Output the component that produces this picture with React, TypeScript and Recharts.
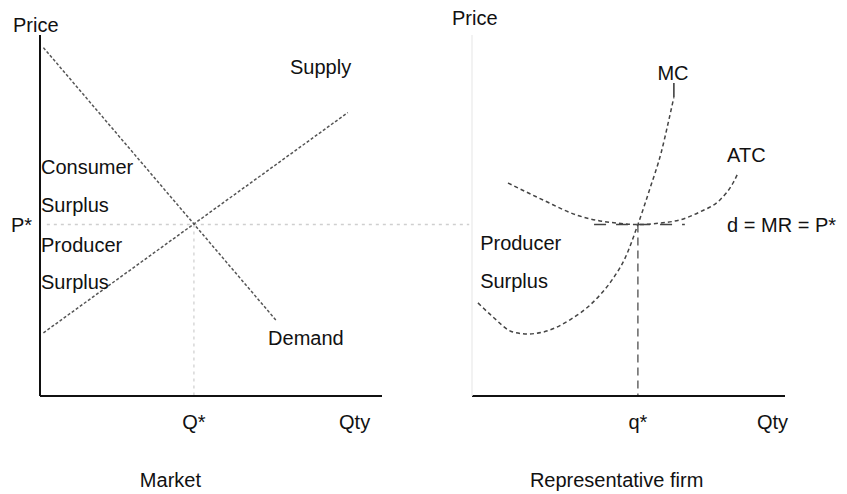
import { LineChart, Line, XAxis, YAxis, ReferenceLine, ReferenceDot } from "recharts";

// equilibrium levels, shared price scale for both panels
const P_STAR = 4.75;
const Q_STAR = 4.5;
const Q_FIRM = 5.3;

// market panel
const demand = [
    { q: 0.1, p: 9.65 },
    { q: 6.9, p: 2.1 },
];
const supply = [
    { q: 0.1, p: 1.75 },
    { q: 9.0, p: 7.85 },
];
const marketTicks = [Q_STAR, 9.2];
const marketTickLabels = ["Q*", "Qty"];

// representative firm panel
const mc = [
    { q: 0.19, p: 2.58 },
    { q: 0.67, p: 2.19 },
    { q: 1.31, p: 1.77 },
    { q: 1.79, p: 1.72 },
    { q: 2.27, p: 1.77 },
    { q: 3.13, p: 2.11 },
    { q: 3.87, p: 2.6 },
    { q: 4.47, p: 3.21 },
    { q: 4.89, p: 3.82 },
    { q: 5.3, p: 4.75 },
    { q: 5.69, p: 5.76 },
    { q: 6.04, p: 6.73 },
    { q: 6.29, p: 7.65 },
    { q: 6.45, p: 8.28 },
];
const atc = [
    { q: 1.15, p: 5.9 },
    { q: 2.27, p: 5.43 },
    { q: 3.35, p: 5.01 },
    { q: 4.09, p: 4.85 },
    { q: 4.63, p: 4.79 },
    { q: 5.3, p: 4.75 },
    { q: 6.0, p: 4.79 },
    { q: 6.65, p: 4.88 },
    { q: 7.28, p: 5.1 },
    { q: 7.92, p: 5.43 },
    { q: 8.34, p: 5.9 },
    { q: 8.5, p: 6.18 },
];
const firmTicks = [Q_FIRM, 9.6];
const firmTickLabels = ["q*", "Qty"];

// text annotations: [text, q, p, anchor]
const marketNotes: [string, number, number, string][] = [
    ["Price", -0.79, 10.08, "start"],
    ["Consumer", 0.03, 6.15, "start"],
    ["Surplus", 0.03, 5.1, "start"],
    ["Producer", 0.03, 4.0, "start"],
    ["Surplus", 0.03, 2.96, "start"],
    ["Supply", 7.31, 8.92, "start"],
    ["Demand", 6.67, 1.41, "start"],
    ["Market", 2.92, -2.52, "start"],
];
const firmNotes: [string, number, number, string][] = [
    ["Price", -0.64, 10.28, "start"],
    ["MC", 6.42, 8.75, "middle"],
    ["ATC", 8.15, 6.48, "start"],
    ["d = MR = P*", 8.15, 4.54, "start"],
    ["Producer", 0.26, 4.04, "start"],
    ["Surplus", 0.26, 2.99, "start"],
    ["Representative firm", 1.85, -2.52, "start"],
];

const FONT = "'Liberation Sans', Arial, sans-serif";
const INK = "#111";

const renderNote = ([text, q, p, anchor]: [string, number, number, string], i: number) => (
    <ReferenceDot
        key={`${text}-${i}`}
        x={q}
        y={p}
        r={0}
        ifOverflow="visible"
        shape={(props: any) => (
            <text
                x={props.cx}
                y={props.cy}
                textAnchor={anchor as any}
                fontSize={20}
                fontFamily={FONT}
                fill={INK}
            >
                {text}
            </text>
        )}
    />
);

const tickStyle = { fill: INK, fontSize: 20, fontFamily: FONT };

function MarketPanel() {
    return (
        <LineChart width={470} height={494} margin={{ top: 35, right: 88, bottom: 58, left: 0 }}>
            <XAxis
                dataKey="q"
                type="number"
                domain={[0, 10]}
                ticks={marketTicks}
                tickFormatter={(_v, i) => marketTickLabels[i]}
                tick={tickStyle}
                tickLine={false}
                tickMargin={13}
                height={40}
                axisLine={{ stroke: INK, strokeWidth: 2 }}
            />
            <YAxis
                dataKey="p"
                type="number"
                domain={[0, 10]}
                ticks={[P_STAR]}
                tickFormatter={() => "P*"}
                tick={tickStyle}
                tickLine={false}
                width={40}
                axisLine={{ stroke: INK, strokeWidth: 2 }}
            />
            <ReferenceLine
                segment={[
                    { x: 0.2, y: P_STAR },
                    { x: 12.55, y: P_STAR },
                ]}
                ifOverflow="visible"
                stroke="#cfcfcf"
                strokeWidth={1.5}
                strokeDasharray="3 4"
            />
            <ReferenceLine
                segment={[
                    { x: Q_STAR, y: P_STAR },
                    { x: Q_STAR, y: 0 },
                ]}
                stroke="#d8d8d8"
                strokeWidth={1.5}
                strokeDasharray="3 4"
            />
            <Line
                data={demand}
                dataKey="p"
                type="linear"
                stroke="#555"
                strokeWidth={1.5}
                strokeDasharray="3 2"
                dot={false}
                activeDot={false}
                isAnimationActive={false}
            />
            <Line
                data={supply}
                dataKey="p"
                type="linear"
                stroke="#555"
                strokeWidth={1.5}
                strokeDasharray="3 2"
                dot={false}
                activeDot={false}
                isAnimationActive={false}
            />
            {marketNotes.map(renderNote)}
        </LineChart>
    );
}

function FirmPanel() {
    return (
        <LineChart width={427} height={494} margin={{ top: 35, right: 62, bottom: 58, left: 0 }}>
            <XAxis
                dataKey="q"
                type="number"
                domain={[0, 10]}
                ticks={firmTicks}
                tickFormatter={(_v, i) => firmTickLabels[i]}
                tick={tickStyle}
                tickLine={false}
                tickMargin={13}
                height={40}
                axisLine={{ stroke: INK, strokeWidth: 2 }}
            />
            <YAxis
                dataKey="p"
                type="number"
                domain={[0, 10]}
                tick={false}
                tickLine={false}
                width={52}
                axisLine={{ stroke: "#eeeeee", strokeWidth: 1.5 }}
            />
            <ReferenceLine
                segment={[
                    { x: Q_FIRM, y: P_STAR },
                    { x: Q_FIRM, y: 0 },
                ]}
                stroke="#666"
                strokeWidth={1.5}
                strokeDasharray="8 5"
            />
            <ReferenceLine
                segment={[
                    { x: 3.9, y: P_STAR },
                    { x: 6.8, y: P_STAR },
                ]}
                stroke="#444"
                strokeWidth={1.5}
                strokeDasharray="12 10"
            />
            <ReferenceLine
                segment={[
                    { x: 6.45, y: 8.28 },
                    { x: 6.45, y: 8.67 },
                ]}
                stroke="#333"
                strokeWidth={1.5}
            />
            <Line
                data={mc}
                dataKey="p"
                type="monotone"
                stroke="#444"
                strokeWidth={1.5}
                strokeDasharray="4 3"
                dot={false}
                activeDot={false}
                isAnimationActive={false}
            />
            <Line
                data={atc}
                dataKey="p"
                type="monotone"
                stroke="#444"
                strokeWidth={1.5}
                strokeDasharray="4 3"
                dot={false}
                activeDot={false}
                isAnimationActive={false}
            />
            {firmNotes.map(renderNote)}
        </LineChart>
    );
}

export default function App() {
    return (
        <div
            style={{
                position: "absolute",
                left: 0,
                top: 0,
                width: 847,
                height: 494,
                background: "#fff",
                fontFamily: FONT,
            }}
        >
            <div style={{ position: "absolute", left: 0, top: 0 }}>
                <MarketPanel />
            </div>
            <div style={{ position: "absolute", left: 420, top: 0 }}>
                <FirmPanel />
            </div>
        </div>
    );
}
